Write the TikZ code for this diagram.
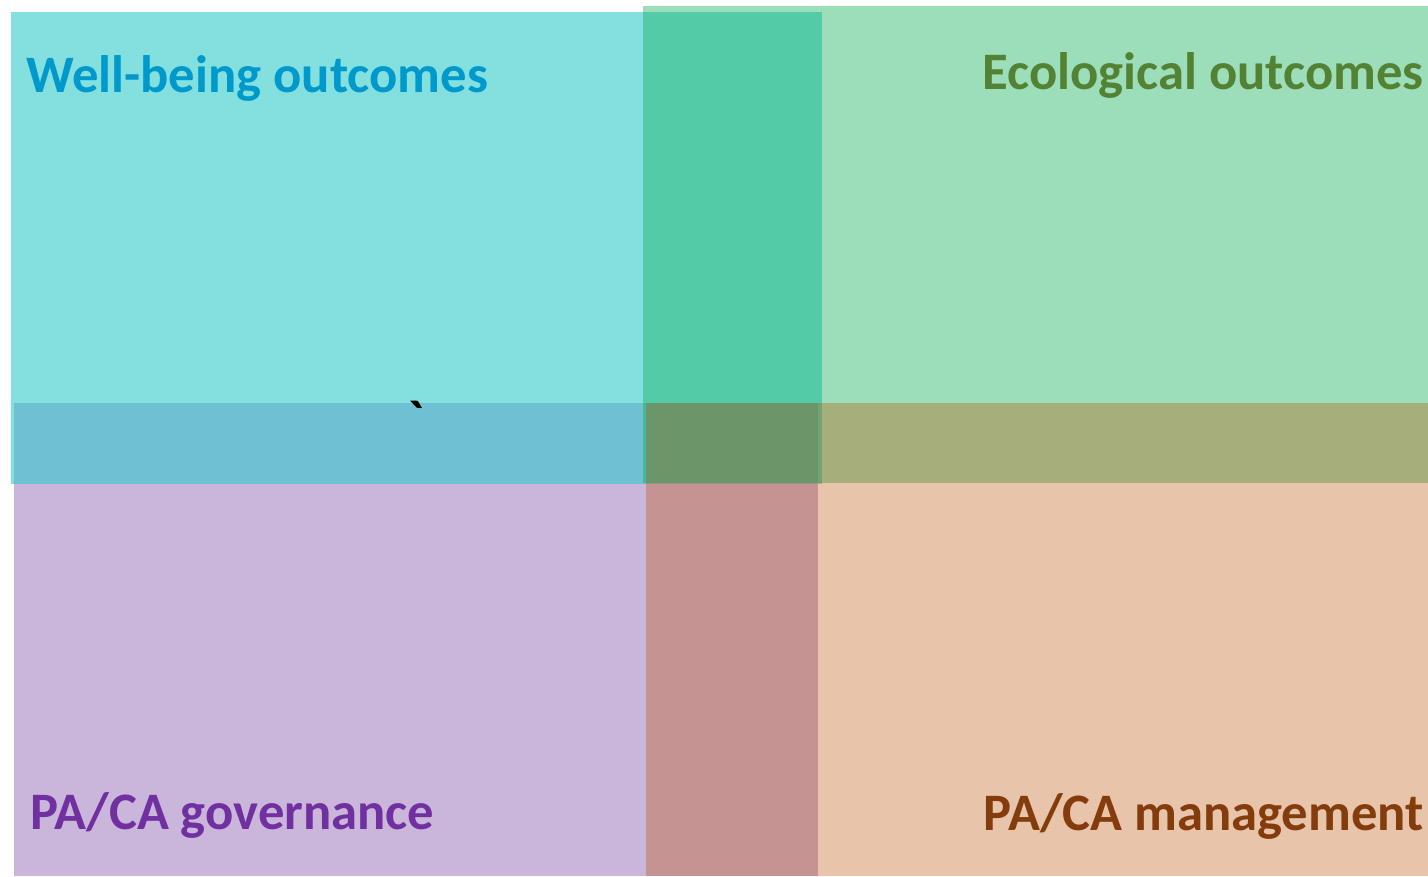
\documentclass[tikz,border=0pt]{standalone}
\usepackage{fontspec}
\setmainfont{Carlito}

\definecolor{wellfill}{RGB}{50,202,202}
\definecolor{ecofill}{RGB}{11,175,84}
\definecolor{govfill}{RGB}{151,109,183}
\definecolor{manfill}{RGB}{187,81,8}
\definecolor{welltext}{RGB}{0,153,204}
\definecolor{ecotext}{RGB}{84,130,53}
\definecolor{govtext}{RGB}{112,48,160}
\definecolor{mantext}{RGB}{132,60,12}

\begin{document}
\begin{tikzpicture}[x=0.75pt,y=-0.75pt,
    title/.style={inner sep=0pt,font=\fontsize{39.5}{44}\selectfont\bfseries}]

\useasboundingbox (0,0) rectangle (1428,876);

% the four areas, governance at the back
\fill[govfill,fill opacity=.5] (14,403) rectangle (818,876);
\fill[wellfill,fill opacity=.6] (11,12) rectangle (822,484);
\fill[ecofill,fill opacity=.41] (643,6) rectangle (1428,483);
\fill[manfill,fill opacity=.34] (646,403) rectangle (1428,876);

\node[title,text=welltext,anchor=base west] (wellbeing) at (26,92) {Well-being outcomes};
\node[title,text=ecotext,anchor=base east] (ecological) at (1424,89) {Ecological outcomes};
\node[title,text=govtext,anchor=base west] (governance) at (30,829) {PA/CA governance};
\node[title,text=mantext,anchor=base east] (management) at (1424,830) {PA/CA management};

\node[title,anchor=center] (grave) at (416,419) {\textasciigrave};

\end{tikzpicture}
\end{document}
